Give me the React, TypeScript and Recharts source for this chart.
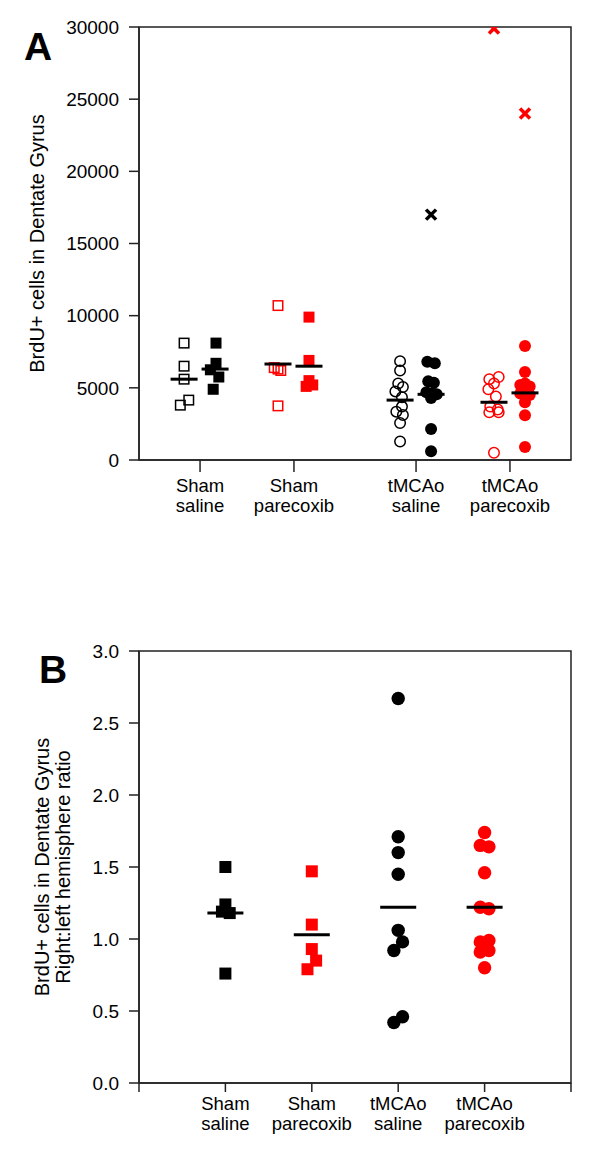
import { ReferenceArea, Scatter, ScatterChart, XAxis, YAxis } from 'recharts';

const FONT = '"Liberation Sans", Arial, sans-serif';
const RED = '#ff0000';
const BLACK = '#000000';
const AXIS = '#222222';

// ---------- Panel A: BrdU+ cells per dentate gyrus ----------
const categoriesA = [['Sham', 'saline'], ['Sham', 'parecoxib'], ['tMCAo', 'saline'], ['tMCAo', 'parecoxib']];
const categoryPosA = [1, 2, 3.3, 4.3];
const yTicksA = [0, 5000, 10000, 15000, 20000, 25000, 30000];

// open = left hemisphere, filled = right hemisphere
const shamSalineOpen = [8100, 6500, 5600, 4150, 3800];
const shamSalineOpenJit = [0, 0, 0, 0.05, -0.04];
const shamSalineFilled = [8100, 6700, 6250, 5750, 4900];
const shamSalineFilledJit = [0.01, 0.01, -0.05, 0.04, -0.02];

const shamParecoxibOpen = [10700, 6400, 6300, 6200, 3750];
const shamParecoxibOpenJit = [0, -0.04, 0, 0.03, 0];
const shamParecoxibFilled = [9900, 6900, 5500, 5200, 5100];
const shamParecoxibFilledJit = [0, 0, 0, 0.04, -0.03];

const tmcaoSalineOpen = [6850, 6200, 5300, 5060, 4750, 4350, 3700, 3350, 3120, 2560, 1280];
const tmcaoSalineOpenJit = [0, 0, -0.02, 0.03, -0.05, 0.02, 0.02, -0.04, 0.03, 0, 0];
const tmcaoSalineFilled = [6800, 6700, 5450, 5350, 4700, 4600, 4550, 4300, 2150, 600];
const tmcaoSalineFilledJit = [-0.04, 0.04, -0.03, 0.03, -0.05, 0.02, 0.06, 0, 0, 0];

const tmcaoParecoxibOpen = [5750, 5600, 5300, 4900, 4400, 3700, 3500, 3300, 3300, 500];
const tmcaoParecoxibOpenJit = [0.05, -0.05, 0, -0.06, 0.02, -0.04, 0.04, 0.05, -0.05, 0];
const tmcaoParecoxibFilled = [7900, 6100, 5300, 5200, 5100, 4700, 4600, 4500, 4000, 3100, 900];
const tmcaoParecoxibFilledJit = [0, 0, 0, -0.05, 0.05, 0, -0.05, 0.05, 0, 0, 0];

// outliers (x markers)
const tmcaoSalineFilledOutliers = [17000];
const tmcaoParecoxibOpenOutliers = [29900];
const tmcaoParecoxibFilledOutliers = [24000];

const meansOpenA = [5600, 6650, 4150, 4000];
const meansFilledA = [6300, 6500, 4550, 4650];

// ---------- Panel B: right:left ratio ----------
const categoriesB = [['Sham', 'saline'], ['Sham', 'parecoxib'], ['tMCAo', 'saline'], ['tMCAo', 'parecoxib']];
const categoryPosB = [1, 2, 3, 4];
const xTicksB = [0, 1, 2, 3, 4, 5];
const yTicksB = [0, 0.5, 1, 1.5, 2, 2.5, 3];

const shamSalineRatio = [1.5, 1.24, 1.19, 1.18, 0.76];
const shamSalineRatioJit = [0, 0, -0.04, 0.05, 0];
const shamParecoxibRatio = [1.47, 1.1, 0.93, 0.85, 0.79];
const shamParecoxibRatioJit = [0, 0, 0, 0.05, -0.05];
const tmcaoSalineRatio = [2.67, 1.71, 1.6, 1.45, 1.06, 0.98, 0.92, 0.46, 0.42];
const tmcaoSalineRatioJit = [0, 0, 0, 0, 0, 0.05, -0.05, 0.05, -0.05];
const tmcaoParecoxibRatio = [1.74, 1.65, 1.64, 1.46, 1.22, 1.21, 0.99, 0.98, 0.92, 0.91, 0.8];
const tmcaoParecoxibRatioJit = [0, -0.05, 0.05, 0, -0.05, 0.05, 0.05, -0.05, 0.05, -0.05, 0];
const meansB = [1.18, 1.03, 1.22, 1.22];

const OPEN_OFF = -0.17;
const FILLED_OFF = 0.16;

const pts = (center: number, values: number[], jit?: number[]) =>
  values.map((v, i) => ({ x: center + (jit ? jit[i] : 0), y: v }));

// marker shapes
const square = (size: number, color: string, open: boolean) => (p: any) =>
  open ? (
    <rect x={p.cx - (size - 1.5) / 2} y={p.cy - (size - 1.5) / 2} width={size - 1.5} height={size - 1.5} fill="none" stroke={color} strokeWidth={1.5} />
  ) : (
    <rect x={p.cx - size / 2} y={p.cy - size / 2} width={size} height={size} fill={color} />
  );

const circle = (r: number, color: string, open: boolean) => (p: any) =>
  open ? (
    <circle cx={p.cx} cy={p.cy} r={r - 0.75} fill="none" stroke={color} strokeWidth={1.5} />
  ) : (
    <circle cx={p.cx} cy={p.cy} r={r} fill={color} />
  );

const cross = (color: string) => (p: any) => (
  <g stroke={color} strokeWidth={3.5}>
    <line x1={p.cx - 5} y1={p.cy - 5} x2={p.cx + 5} y2={p.cy + 5} />
    <line x1={p.cx - 5} y1={p.cy + 5} x2={p.cx + 5} y2={p.cy - 5} />
  </g>
);

const meanBar = (w: number) => (p: any) => (
  <line x1={p.cx - w / 2} x2={p.cx + w / 2} y1={p.cy} y2={p.cy} stroke={BLACK} strokeWidth={3} />
);

const catTick = (labels: string[][], positions: number[], dy: number) => (props: any) => {
  const { x, y, payload } = props;
  const i = positions.indexOf(payload.value);
  if (i < 0) return <g />;
  return (
    <text x={x} y={y} textAnchor="middle" fontSize={18.5} fill={BLACK}>
      <tspan x={x} dy={dy}>{labels[i][0]}</tspan>
      <tspan x={x} dy={20}>{labels[i][1]}</tspan>
    </text>
  );
};

const yTitle = (lines: string[], baseX: number) => (props: any) => {
  const vb = props.viewBox || {};
  const cy = vb.y + vb.height / 2;
  return (
    <text transform={`translate(${baseX}, ${cy}) rotate(-90)`} textAnchor="middle" fontSize={20} fill={BLACK}>
      {lines.map((l, i) => (
        <tspan key={i} x={0} dy={i === 0 ? 0 : 21}>{l}</tspan>
      ))}
    </text>
  );
};

const axisLine = { stroke: AXIS, strokeWidth: 1.5 };

const ChartA = () => {
  const c = categoryPosA;
  const groups = [
    { data: pts(c[0] + OPEN_OFF, shamSalineOpen, shamSalineOpenJit), shape: square(11, BLACK, true) },
    { data: pts(c[0] + FILLED_OFF, shamSalineFilled, shamSalineFilledJit), shape: square(11, BLACK, false) },
    { data: pts(c[1] + OPEN_OFF, shamParecoxibOpen, shamParecoxibOpenJit), shape: square(11, RED, true) },
    { data: pts(c[1] + FILLED_OFF, shamParecoxibFilled, shamParecoxibFilledJit), shape: square(11, RED, false) },
    { data: pts(c[2] + OPEN_OFF, tmcaoSalineOpen, tmcaoSalineOpenJit), shape: circle(6, BLACK, true) },
    { data: pts(c[2] + FILLED_OFF, tmcaoSalineFilled, tmcaoSalineFilledJit), shape: circle(6, BLACK, false) },
    { data: pts(c[3] + OPEN_OFF, tmcaoParecoxibOpen, tmcaoParecoxibOpenJit), shape: circle(6, RED, true) },
    { data: pts(c[3] + FILLED_OFF, tmcaoParecoxibFilled, tmcaoParecoxibFilledJit), shape: circle(6, RED, false) },
    { data: pts(c[2] + FILLED_OFF, tmcaoSalineFilledOutliers), shape: cross(BLACK) },
    { data: pts(c[3] + OPEN_OFF, tmcaoParecoxibOpenOutliers), shape: cross(RED) },
    { data: pts(c[3] + FILLED_OFF, tmcaoParecoxibFilledOutliers), shape: cross(RED) },
    { data: meansOpenA.map((m, i) => ({ x: c[i] + OPEN_OFF, y: m })), shape: meanBar(27) },
    { data: meansFilledA.map((m, i) => ({ x: c[i] + FILLED_OFF, y: m })), shape: meanBar(27) },
  ];
  return (
    <ScatterChart width={600} height={540} margin={{ top: 27, right: 29, bottom: 0, left: 0 }}>
      <XAxis
        type="number"
        dataKey="x"
        domain={[0.35, 4.95]}
        ticks={categoryPosA}
        interval={0}
        allowDataOverflow
        height={80}
        tickSize={12}
        tickMargin={2}
        axisLine={axisLine}
        tickLine={axisLine}
        tick={catTick(categoriesA, categoryPosA, 18)}
      />
      <YAxis
        type="number"
        dataKey="y"
        domain={[0, 30000]}
        ticks={yTicksA}
        interval={0}
        allowDataOverflow
        width={139}
        tickSize={10}
        tickMargin={10}
        axisLine={axisLine}
        tickLine={axisLine}
        tick={{ fill: BLACK, fontSize: 19 }}
        label={{ content: yTitle(['BrdU+ cells in Dentate Gyrus'], 44) }}
      />
      <ReferenceArea x1={0.35} x2={4.95} y1={0} y2={30000} fill="none" stroke={AXIS} strokeWidth={1.5} />
      {groups.map((g, i) => (
        <Scatter key={i} data={g.data} shape={g.shape} isAnimationActive={false} />
      ))}
    </ScatterChart>
  );
};

const ChartB = () => {
  const c = categoryPosB;
  const groups = [
    { data: pts(c[0], shamSalineRatio, shamSalineRatioJit), shape: square(12, BLACK, false) },
    { data: pts(c[1], shamParecoxibRatio, shamParecoxibRatioJit), shape: square(12, RED, false) },
    { data: pts(c[2], tmcaoSalineRatio, tmcaoSalineRatioJit), shape: circle(6.7, BLACK, false) },
    { data: pts(c[3], tmcaoParecoxibRatio, tmcaoParecoxibRatioJit), shape: circle(6.7, RED, false) },
    { data: meansB.map((m, i) => ({ x: c[i], y: m })), shape: meanBar(36) },
  ];
  return (
    <ScatterChart width={600} height={555} margin={{ top: 51, right: 29, bottom: 0, left: 0 }}>
      <XAxis
        type="number"
        dataKey="x"
        domain={[0, 5]}
        ticks={xTicksB}
        interval={0}
        allowDataOverflow
        height={72}
        tickSize={9}
        tickMargin={2}
        axisLine={axisLine}
        tickLine={axisLine}
        tick={catTick(categoriesB, categoryPosB, 16)}
      />
      <YAxis
        type="number"
        dataKey="y"
        domain={[0, 3]}
        ticks={yTicksB}
        interval={0}
        allowDataOverflow
        width={139}
        tickSize={10}
        tickMargin={10}
        axisLine={axisLine}
        tickLine={axisLine}
        tickFormatter={(v: number) => v.toFixed(1)}
        tick={{ fill: BLACK, fontSize: 19 }}
        label={{ content: yTitle(['BrdU+ cells in Dentate Gyrus', 'Right:left hemisphere ratio'], 49) }}
      />
      <ReferenceArea x1={0} x2={5} y1={0} y2={3} fill="none" stroke={AXIS} strokeWidth={1.5} />
      {groups.map((g, i) => (
        <Scatter key={i} data={g.data} shape={g.shape} isAnimationActive={false} />
      ))}
    </ScatterChart>
  );
};

export default function App() {
  return (
    <div style={{ position: 'absolute', left: 0, top: 0, width: 600, height: 1155, background: '#fff', fontFamily: FONT }}>
      <div style={{ position: 'absolute', left: 0, top: 0 }}>
        <ChartA />
      </div>
      <div style={{ position: 'absolute', left: 0, top: 600 }}>
        <ChartB />
      </div>
      <svg width={600} height={1155} style={{ position: 'absolute', left: 0, top: 0, pointerEvents: 'none' }}>
        <text x={24} y={60} fontSize={39} fontWeight="bold" fontFamily={FONT}>A</text>
        <text x={39} y={683} fontSize={39} fontWeight="bold" fontFamily={FONT}>B</text>
      </svg>
    </div>
  );
}
